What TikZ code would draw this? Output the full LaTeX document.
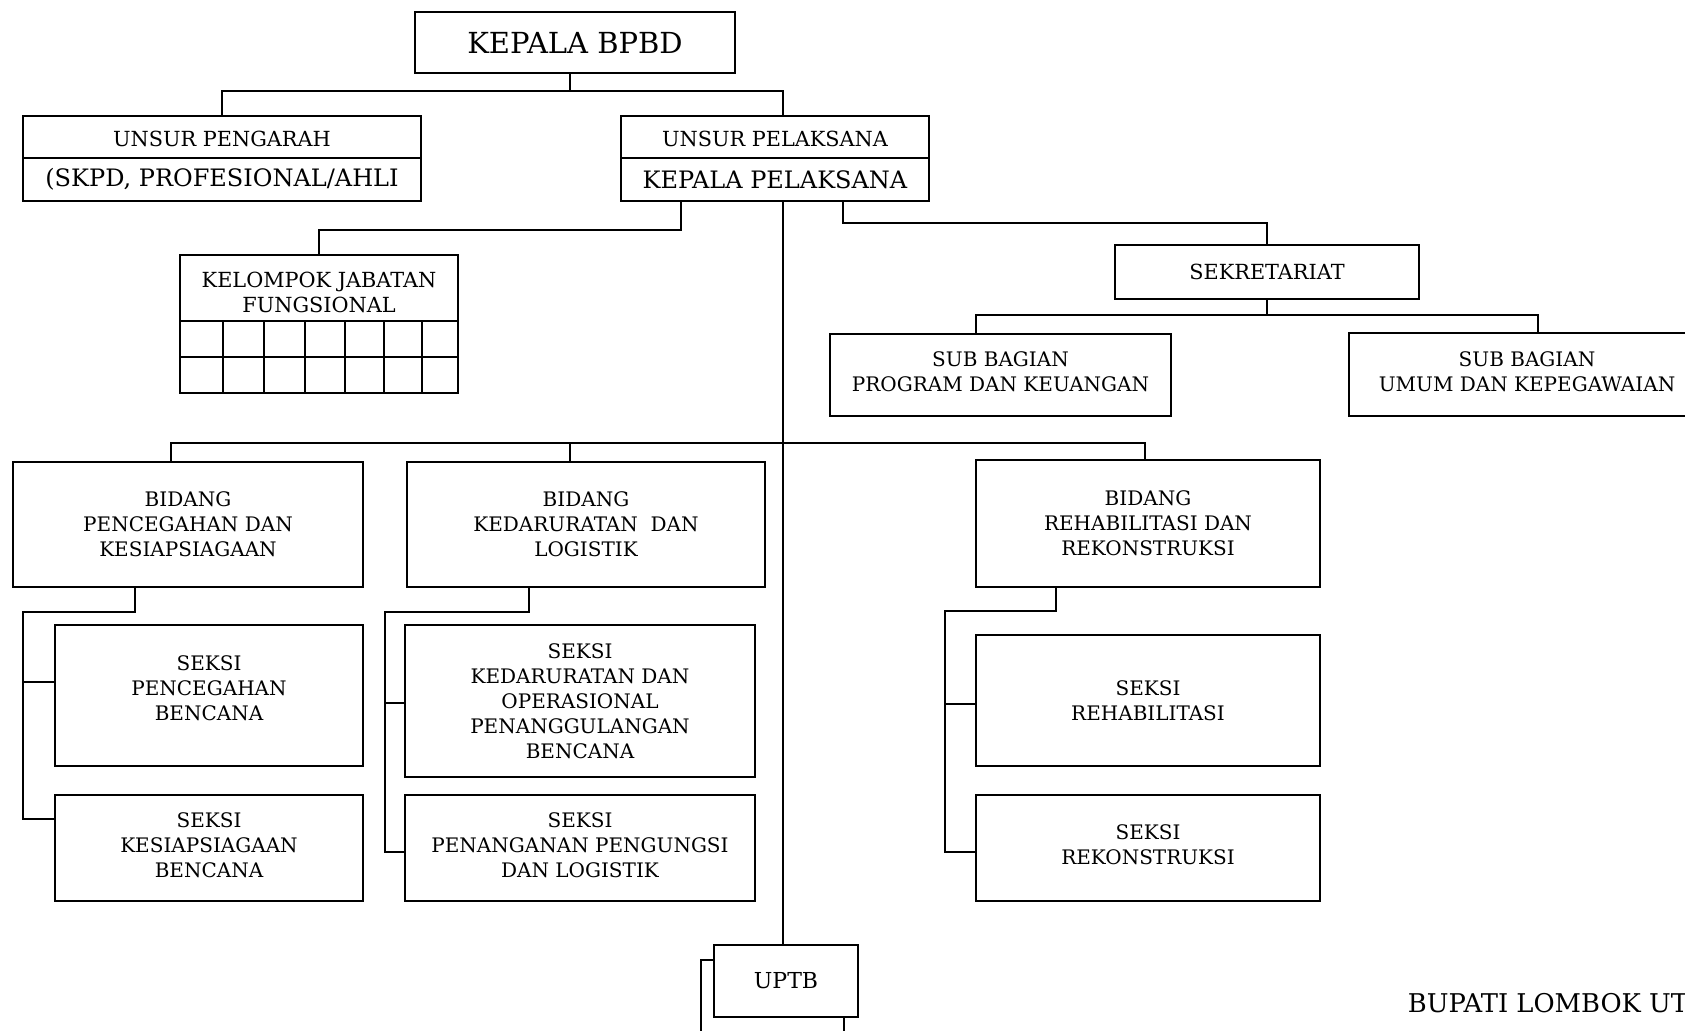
\documentclass[tikz,border=0pt]{standalone}
\usepackage{fontspec}
\setmainfont{DejaVu Serif}
\begin{document}
\begin{tikzpicture}[x=0.5pt,y=-0.5pt, line width=0.9pt,
  box/.style={draw, line width=0.9pt, inner sep=0pt, outer sep=0pt, align=center, fill=white},
  fbody/.style={font=\fontsize{10}{12.5}\selectfont},
  fsub/.style={font=\fontsize{10.4}{12.5}\selectfont},
  fmid/.style={font=\fontsize{12}{14}\selectfont},
  fbig/.style={font=\fontsize{14.5}{16}\selectfont}]
\useasboundingbox (0,0) rectangle (1685,1030);
\clip (0,0) rectangle (1685,1030);
\fill[white] (0,0) rectangle (1685,1030);

% top level
\node[box, fbig, minimum width=160pt, minimum height=30.5pt] (kepala) at (575,42.5) {KEPALA BPBD};
\node[box, fsub, minimum width=199pt, minimum height=21pt] (pengarah-t) at (222,137) {\rule{0pt}{9.5pt}UNSUR PENGARAH};
\node[box, fmid, minimum width=199pt, minimum height=21.5pt] (pengarah-b) at (222,179.5) {(SKPD, PROFESIONAL/AHLI};
\node[box, fsub, minimum width=154pt, minimum height=21pt] (pelaksana-t) at (775,137) {\rule{0pt}{9.5pt}UNSUR PELAKSANA};
\node[box, fmid, minimum width=154pt, minimum height=21.5pt] (pelaksana-b) at (775,179.5) {KEPALA PELAKSANA};

% kelompok jabatan fungsional
\node[box, fsub, minimum width=139pt, minimum height=33pt] (kel) at (319,288) {\rule{0pt}{12pt}KELOMPOK JABATAN\\FUNGSIONAL};
\node[box, minimum width=139pt, minimum height=36pt] (kelgrid) at (319,357) {};
\draw (kelgrid.west) -- (kelgrid.east);
\foreach \gx in {223,264,305,345,384,422} \draw (\gx,321) -- (\gx,393);

% sekretariat
\node[box, fsub, minimum width=152pt, minimum height=27pt] (sekret) at (1267,272) {SEKRETARIAT};
\node[box, fbody, minimum width=170.5pt, minimum height=41pt] (subprog) at (1000.5,375) {SUB BAGIAN\\PROGRAM DAN KEUANGAN\rule[-3pt]{0pt}{3pt}};
\node[box, fbody, minimum width=178pt, minimum height=41.5pt] (subumum) at (1527,374.5) {SUB BAGIAN\\UMUM DAN KEPEGAWAIAN\rule[-3pt]{0pt}{3pt}};

% bidang
\node[box, fbody, minimum width=175pt, minimum height=62.5pt] (bidA) at (188,524.5) {BIDANG\\PENCEGAHAN DAN\\KESIAPSIAGAAN};
\node[box, fbody, minimum width=179pt, minimum height=62.5pt] (bidB) at (586,524.5) {BIDANG\\KEDARURATAN\ \ DAN\\LOGISTIK};
\node[box, fbody, minimum width=172pt, minimum height=63.5pt] (bidC) at (1148,523.5) {BIDANG\\REHABILITASI DAN\\REKONSTRUKSI};

% seksi
\node[box, fbody, minimum width=154pt, minimum height=70.5pt] (sA1) at (209,695.5) {SEKSI\\PENCEGAHAN\\BENCANA\rule[-7.5pt]{0pt}{7.5pt}};
\node[box, fbody, minimum width=154pt, minimum height=53pt] (sA2) at (209,848) {SEKSI\\KESIAPSIAGAAN\\BENCANA\rule[-3pt]{0pt}{3pt}};
\node[box, fbody, minimum width=175pt, minimum height=76pt] (sB1) at (580,701) {SEKSI\\KEDARURATAN DAN\\OPERASIONAL\\PENANGGULANGAN\\BENCANA};
\node[box, fbody, minimum width=175pt, minimum height=53pt] (sB2) at (580,848) {SEKSI\\PENANGANAN PENGUNGSI\\DAN LOGISTIK\rule[-3pt]{0pt}{3pt}};
\node[box, fbody, minimum width=172pt, minimum height=65.5pt] (sC1) at (1148,700.5) {SEKSI\\REHABILITASI};
\node[box, fbody, minimum width=172pt, minimum height=53pt] (sC2) at (1148,848) {SEKSI\\REKONSTRUKSI\rule[-3pt]{0pt}{3pt}};

% uptb
\node[box, minimum width=71.5pt, minimum height=50pt] (uptb-back) at (772.5,1010) {};
\node[box, font=\fontsize{11}{13}\selectfont, minimum width=72pt, minimum height=36pt] (uptb) at (786,981) {UPTB};

% signature text
\node[anchor=base west, inner sep=0pt, font=\fontsize{12.9}{15}\selectfont] (bupati) at (1407,1012) {BUPATI LOMBOK UTARA};

% connectors
\draw ([xshift=-2.5pt]kepala.south) -- ++(0,18) coordinate (kj);
\draw (pengarah-t.north) |- (kj) -| ([xshift=4pt]pelaksana-t.north);
\draw ([xshift=-47pt]pelaksana-b.south) -- ++(0,29) -| (kel.north);
\draw ([xshift=34pt]pelaksana-b.south) -- ++(0,22) -| (sekret.north);
\draw (sekret.south) -- ++(0,16) coordinate (sj);
\draw ([xshift=-12.25pt]subprog.north) |- (sj) -| ([xshift=5.5pt]subumum.north);
\draw ([xshift=-1.5pt]uptb.north) -- ([xshift=-1.5pt]uptb.north |- pelaksana-b.south);
\coordinate (bj) at (783,443);
\draw ([xshift=-8.5pt]bidA.north) |- (bj) -| ([xshift=-1.5pt]bidC.north);
\draw ([xshift=-8pt]bidB.north) -- ([xshift=-8pt]bidB.north |- bj);

\draw ([xshift=-26.5pt]bidA.south) -- ++(0,25) -- ++(-112,0) |- ([yshift=14.5pt]sA2.west);
\draw ([yshift=6.75pt]sA1.west) -- ++(-32,0);
\draw ([xshift=-28.5pt]bidB.south) -- ++(0,25) -- ++(-144,0) |- ([yshift=-2pt]sB2.west);
\draw ([yshift=-1pt]sB1.west) -- ++(-20,0);
\draw ([xshift=-46pt]bidC.south) -- ++(0,24) -- ++(-111,0) |- ([yshift=-2pt]sC2.west);
\draw ([yshift=-1.75pt]sC1.west) -- ++(-31,0);
\end{tikzpicture}
\end{document}
